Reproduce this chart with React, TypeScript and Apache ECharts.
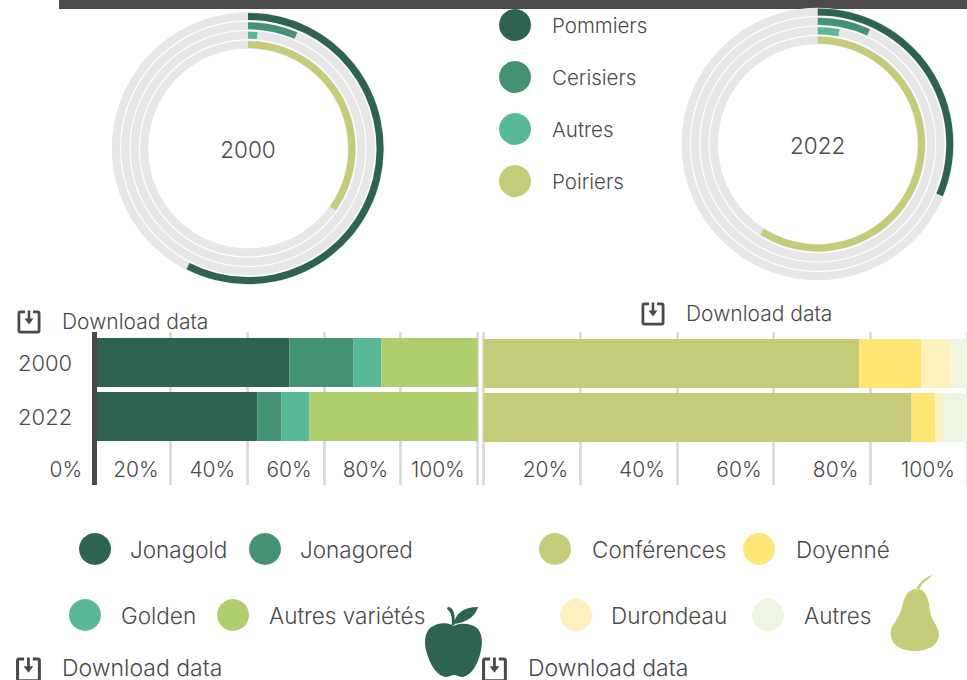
import React, { useEffect, useRef } from "react";
import * as echarts from "echarts";

const FONT = 'Inter, sans-serif';
const TEXT = "#4a4a4a";
const DARK = "#4a4a4a";
const GREY = "#e7e7e7";
const TICK = "#d9d9d9";

const ringNames = ["Pommiers", "Cerisiers", "Autres", "Poiriers"];
const ringColors = ["#2d6350", "#449274", "#58b998", "#c5cc78"];
const ring2000 = [57.5, 6.4, 1.3, 34.8];
const ring2022 = [31.3, 6.8, 3.0, 59.0];
const ringFull = [100, 100, 100, 100];

const years = ["2000", "2022"];
const appleNames = ["Jonagold", "Jonagored", "Golden", "Autres variétés"];
const appleColors = ["#2d6350", "#449274", "#58b998", "#afcf6e"];
const apple2000 = [51.0, 16.8, 7.2, 25.3];
const apple2022 = [42.7, 6.3, 7.3, 44.0];
const pearNames = ["Conférences", "Doyenné", "Durondeau", "Autres"];
const pearColors = ["#c5cc78", "#ffe576", "#fff1bc", "#eef4e2"];
const pear2000 = [77.7, 12.8, 6.3, 3.2];
const pear2022 = [88.5, 5.0, 1.3, 5.2];

const downloadLabel = "Download data";

const ICON = "M8 0.5H3.5Q0.5 0.5 0.5 3.5V20.5Q0.5 23.5 3.5 23.5H20.5Q23.5 23.5 23.5 20.5V3.5Q23.5 0.5 20.5 0.5H16V3.3H20.7V20.7H3.3V3.3H8ZM10.7 0.5H13.3V8.5H16.5L12 14.5L7.5 8.5H10.7Z";
const APPLE = "M452 625C446 622 436 623 430 628C425 633 424 642 426 650C429 662 436 676 446 677C449 677 451 675 454 675C457 675 459 677 462 677C472 676 479 662 481 650C483 642 482 633 477 628C471 623 461 623 456 625C455 626 453 626 452 625ZM451.8 625C452 619 452 613 447 609C447 607 449 606 451 608C455 611 455 618 454.5 625ZM454 624C455 614 463 607 478 607C476 615 467 623 454 624Z";
const PEAR = "M917 589C909 589 905 595 903 603C901 612 899 616 895 622C892 626 890 630 891 636C892 646 903 651 915 651C927 651 938 646 939 635C939 630 936 625 933 620C930 615 930 610 929 604C927 595 924 589 917 589ZM916 589C919 583 925 577 932 575C931 578 925 580 921 586C920 588 919 590 918 590Z";

echarts.graphic.registerShape("dlIcon", echarts.graphic.extendPath(ICON, {}));
echarts.graphic.registerShape("appleIcon", echarts.graphic.extendPath(APPLE, {}));
echarts.graphic.registerShape("pearIcon", echarts.graphic.extendPath(PEAR, {}));

const W = 300;
function text(x: number, y: number, s: string, size = 20, align = "left") {
  return {
    type: "text", x, y, z: 5,
    style: { text: s, fill: TEXT, fontFamily: FONT, fontSize: size, fontWeight: W, verticalAlign: "middle", align },
  };
}
function legendItem(cx: number, cy: number, tx: number, color: string, s: string, size = 22.5) {
  return [
    { type: "circle", z: 5, shape: { cx, cy, r: 16 }, style: { fill: color } },
    text(tx, cy, s, size),
  ];
}
function download(ix: number, iy: number, tx: number, ty: number, scale = 1, size = 21) {
  return [
    { type: "dlIcon", x: ix, y: iy, scaleX: scale, scaleY: scale, z: 5, style: { fill: DARK } },
    text(tx, ty, downloadLabel, size),
  ];
}

function radial(polarBase: number, cx: number, cy: number, values: number[]) {
  const common = { center: [cx, cy], radius: [99.2, 136.8] };
  const polar = [common, common];
  const angleAxis = [0, 1].map((i) => ({ polarIndex: polarBase + i, type: "value", min: 0, max: 100, startAngle: 90, show: false }));
  const radiusAxis = [0, 1].map((i) => ({ polarIndex: polarBase + i, type: "category", data: ringNames, inverse: true, show: false }));
  const series = [
    { type: "bar", coordinateSystem: "polar", polarIndex: polarBase, barWidth: 8.2, silent: true, data: ringFull, itemStyle: { color: GREY }, z: 1 },
    { type: "bar", coordinateSystem: "polar", polarIndex: polarBase + 1, barWidth: 7, z: 2,
      data: values.map((v, i) => ({ value: v, name: ringNames[i], itemStyle: { color: ringColors[i] } })) },
  ];
  return { polar, angleAxis, radiusAxis, series };
}

function stacked(base: number, left: number, width: number, barTop: number, names: string[], colors: string[], a: number[], b: number[], showYears: boolean, showZero: boolean, showLine: boolean) {
  const grid = [
    { left, width, top: 332, height: 153 },
    { left, width, top: barTop, height: 108 },
  ];
  const xAxis = [
    { gridIndex: base, type: "value", min: 0, max: 100, interval: 20, axisLine: { show: false }, axisTick: { show: false },
      splitLine: { show: true, lineStyle: { color: TICK, width: 2.7 } },
      axisLabel: { inside: true, margin: 5, showMinLabel: showZero, align: "right", padding: [0, 12, 0, 0], formatter: "{value}%", color: TEXT, fontFamily: FONT, fontWeight: W, fontSize: 21 } },
    { gridIndex: base + 1, type: "value", min: 0, max: 100, show: false },
  ];
  const yAxis = [
    { gridIndex: base, type: "value", min: 0, max: 1, offset: 0.7, z: 10, axisLabel: { show: false }, axisTick: { show: false }, splitLine: { show: false },
      axisLine: { show: showLine, lineStyle: { color: DARK, width: 5, cap: "butt" } } },
    { gridIndex: base + 1, type: "category", data: years, inverse: true, axisTick: { show: false }, axisLine: { show: false },
      axisLabel: { show: showYears, margin: 22, color: TEXT, fontFamily: FONT, fontWeight: W, fontSize: 22 } },
  ];
  const series = names.map((n, i) => ({
    type: "bar", name: n, stack: "s" + base, xAxisIndex: base + 1, yAxisIndex: base + 1, barWidth: 49, clip: false, z: 2,
    itemStyle: { color: colors[i] }, data: [a[i], b[i]],
  }));
  return { grid, xAxis, yAxis, series };
}

export default function App() {
  const ref = useRef<HTMLDivElement>(null);
  useEffect(() => {
    document.body.style.margin = "0";
    const chart = echarts.init(ref.current!, undefined, { renderer: "svg" });
    const r1 = radial(0, 248, 148.5, ring2000);
    const r2 = radial(2, 817.7, 144, ring2022);
    const s1 = stacked(0, 94.2, 382.6, 335.5, appleNames, appleColors, apple2000, apple2022, true, true, true);
    const s2 = stacked(2, 483.6, 483.4, 336.5, pearNames, pearColors, pear2000, pear2022, false, false, false);
    chart.setOption({
      animation: false,
      backgroundColor: "#ffffff",
      polar: [...r1.polar, ...r2.polar],
      angleAxis: [...r1.angleAxis, ...r2.angleAxis],
      radiusAxis: [...r1.radiusAxis, ...r2.radiusAxis],
      grid: [...s1.grid, ...s2.grid],
      xAxis: [...s1.xAxis, ...s2.xAxis],
      yAxis: [...s1.yAxis, ...s2.yAxis],
      series: [...r1.series, ...r2.series, ...s1.series, ...s2.series],
      graphic: { elements: [
        { type: "rect", z: -10, shape: { x: 59, y: 0, width: 908, height: 9 }, style: { fill: DARK } },
        text(248, 149, "2000", 22.5, "center"),
        text(817.7, 145, "2022", 22.5, "center"),
        ...ringNames.flatMap((n, i) => legendItem(515, 25 + 52 * i, 552, ringColors[i], n, 20.5)),
        ...legendItem(95, 549, 130, appleColors[0], appleNames[0]),
        ...legendItem(265, 549, 300, appleColors[1], appleNames[1]),
        ...legendItem(85, 615, 121, appleColors[2], appleNames[2]),
        ...legendItem(233, 615, 269, appleColors[3], appleNames[3]),
        ...legendItem(555, 549, 592, pearColors[0], pearNames[0]),
        ...legendItem(759, 549, 796, pearColors[1], pearNames[1]),
        ...legendItem(576, 615, 611, pearColors[2], pearNames[2]),
        ...legendItem(768, 615, 804, pearColors[3], pearNames[3]),
        ...download(17, 310, 62, 321),
        ...download(641, 302, 686, 313),
        ...download(15.5, 657, 62, 667.5, 1.08, 23),
        ...download(481.5, 657, 528, 667.5, 1.08, 23),
        { type: "appleIcon", x: 0, y: 0, z: 6, style: { fill: "#2d6350" } },
        { type: "pearIcon", x: 0, y: 0, z: 6, style: { fill: "#c5cc78" } },
      ] },
    });
    return () => chart.dispose();
  }, []);
  return <div ref={ref} style={{ width: 967, height: 680, overflow: "hidden" }} />;
}
